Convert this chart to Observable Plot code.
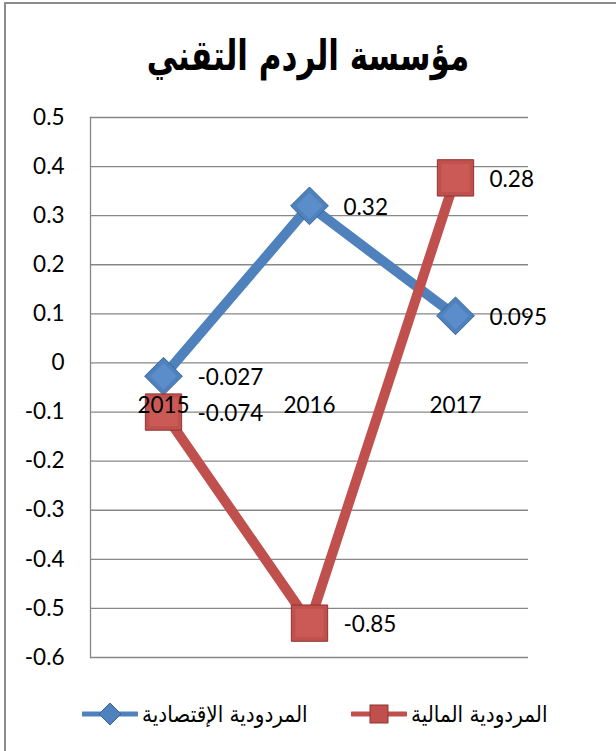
<!DOCTYPE html>
<html>
<head>
<meta charset="utf-8">
<script src="https://cdn.jsdelivr.net/npm/d3@7"></script>
<script src="https://cdn.jsdelivr.net/npm/@observablehq/plot@0.6"></script>
<style>
  html, body { margin: 0; padding: 0; background: #fff; }
  #wrap { position: relative; width: 616px; height: 751px; overflow: hidden; font-family: Lato, "Liberation Sans", "DejaVu Sans", sans-serif; }
  #border { position: absolute; left: 4px; top: 2px; width: 800px; height: 900px; border-top: 2px solid #8c8c8c; border-left: 2px solid #8c8c8c; }
  #title { position: absolute; left: 0; width: 616px; top: 37px; text-align: center; font: bold 31px "DejaVu Sans", "Liberation Sans", sans-serif; direction: rtl; color: #000; transform: scaleY(1.35); transform-origin: 50% 50%; }
  #chart { position: absolute; left: 0; top: 0; }
  #legend { position: absolute; left: 0; top: 697px; width: 616px; height: 34px; font: 20px "DejaVu Sans", sans-serif; color: #000; }
  .item { position: absolute; top: 0; height: 34px; display: flex; align-items: center; }
  .item span { direction: rtl; white-space: nowrap; display: inline-block; transform: scaleY(1.15); }
</style>
</head>
<body>
<div id="wrap">
  <div id="border"></div>
  <div id="chart"></div>
  <div id="title"></div>
  <div id="legend"></div>
</div>
<script>
const title = "مؤسسة الردم التقني";
const years = ["2015", "2016", "2017"];
const economicName = "المردودية الإقتصادية";
const financialName = "المردودية المالية";
const economicValues = [-0.027, 0.32, 0.096];
const economicLabels = ["-0.027", "0.32", "0.095"];
const financialValues = [-0.10, -0.53, 0.377];
const financialLabels = ["-0.074", "-0.85", "0.28"];
const yTicks = [0.5, 0.4, 0.3, 0.2, 0.1, 0, -0.1, -0.2, -0.3, -0.4, -0.5, -0.6];
const yTickLabels = ["0.5", "0.4", "0.3", "0.2", "0.1", "0", "-0.1", "-0.2", "-0.3", "-0.4", "-0.5", "-0.6"];

const blue = "#4F81BD", blueDark = "#3A6597", blueLight = "#5B8DCA";
const red = "#C0504D", redDark = "#8E3432", redLight = "#CB5A56";

const eco = years.map((y, i) => ({year: y, value: economicValues[i], label: economicLabels[i]}));
const fin = years.map((y, i) => ({year: y, value: financialValues[i], label: financialLabels[i]}));

const plot = Plot.plot({
  width: 616,
  height: 680,
  marginTop: 117,
  marginBottom: 23,
  marginLeft: 90,
  marginRight: 88,
  style: {fontFamily: "Lato, 'Liberation Sans', sans-serif", fontSize: "22px", color: "#000", background: "transparent"},
  x: {type: "point", domain: years, padding: 0.5, axis: null},
  y: {domain: [-0.6, 0.5], axis: null},
  marks: [
    Plot.ruleY(yTicks, {stroke: "#878787", strokeWidth: 1.3}),
    Plot.frame({anchor: "left", stroke: "#878787", strokeWidth: 1.3}),
    Plot.axisY(yTicks, {label: null, tickSize: 0, tickPadding: 26, tickFormat: d => yTickLabels[yTicks.indexOf(d)], fontSize: 22.5, textAnchor: "end"}),
    Plot.line(eco, {x: "year", y: "value", stroke: blue, strokeWidth: 10, strokeLinejoin: "round"}),
    Plot.dot(eco, {x: "year", y: "value", symbol: "diamond2", r: 17, fill: blue, stroke: blueDark, strokeWidth: 1}),
    Plot.dot(eco, {x: "year", y: "value", symbol: "diamond2", r: 12, fill: blueLight, stroke: "none"}),
    Plot.line(fin, {x: "year", y: "value", stroke: red, strokeWidth: 10, strokeLinejoin: "round"}),
    Plot.dot(fin, {x: "year", y: "value", symbol: "square", r: 20.5, fill: red, stroke: redDark, strokeWidth: 1}),
    Plot.dot(fin, {x: "year", y: "value", symbol: "square", r: 16, fill: redLight, stroke: "none"}),
    Plot.text(years, {x: d => d, y: d => 0, dy: 43, text: d => d, fontSize: 22.5, fill: "#000"}),
    Plot.text(eco, {x: "year", y: "value", text: "label", dx: 34, dy: 2, textAnchor: "start", fontSize: 22.5, fill: "#000"}),
    Plot.text(fin, {x: "year", y: "value", text: "label", dx: 34, dy: 2, textAnchor: "start", fontSize: 22.5, fill: "#000"})
  ]
});
document.getElementById("chart").appendChild(plot);
document.getElementById("title").textContent = title;

// legend
const legend = document.getElementById("legend");
function swatch(color, dark, kind) {
  const ns = "http://www.w3.org/2000/svg";
  const svg = document.createElementNS(ns, "svg");
  svg.setAttribute("width", 56); svg.setAttribute("height", 34);
  const line = document.createElementNS(ns, "line");
  line.setAttribute("x1", 1); line.setAttribute("x2", 55); line.setAttribute("y1", 17); line.setAttribute("y2", 17);
  line.setAttribute("stroke", color); line.setAttribute("stroke-width", 5); line.setAttribute("stroke-linecap", "round");
  svg.appendChild(line);
  let shape;
  if (kind === "diamond") {
    shape = document.createElementNS(ns, "path");
    shape.setAttribute("d", "M28,6 L39,17 L28,28 L17,17 Z");
  } else {
    shape = document.createElementNS(ns, "rect");
    shape.setAttribute("x", 19); shape.setAttribute("y", 8); shape.setAttribute("width", 18); shape.setAttribute("height", 18);
  }
  shape.setAttribute("fill", color); shape.setAttribute("stroke", dark);
  svg.appendChild(shape);
  return svg;
}
function item(left, color, dark, kind, name) {
  const d = document.createElement("div");
  d.className = "item";
  d.style.left = left + "px";
  d.appendChild(swatch(color, dark, kind));
  const s = document.createElement("span");
  s.textContent = name;
  s.style.marginLeft = "4px";
  d.appendChild(s);
  legend.appendChild(d);
}
item(82, blue, blueDark, "diamond", economicName);
item(351, red, redDark, "square", financialName);
</script>
</body>
</html>
